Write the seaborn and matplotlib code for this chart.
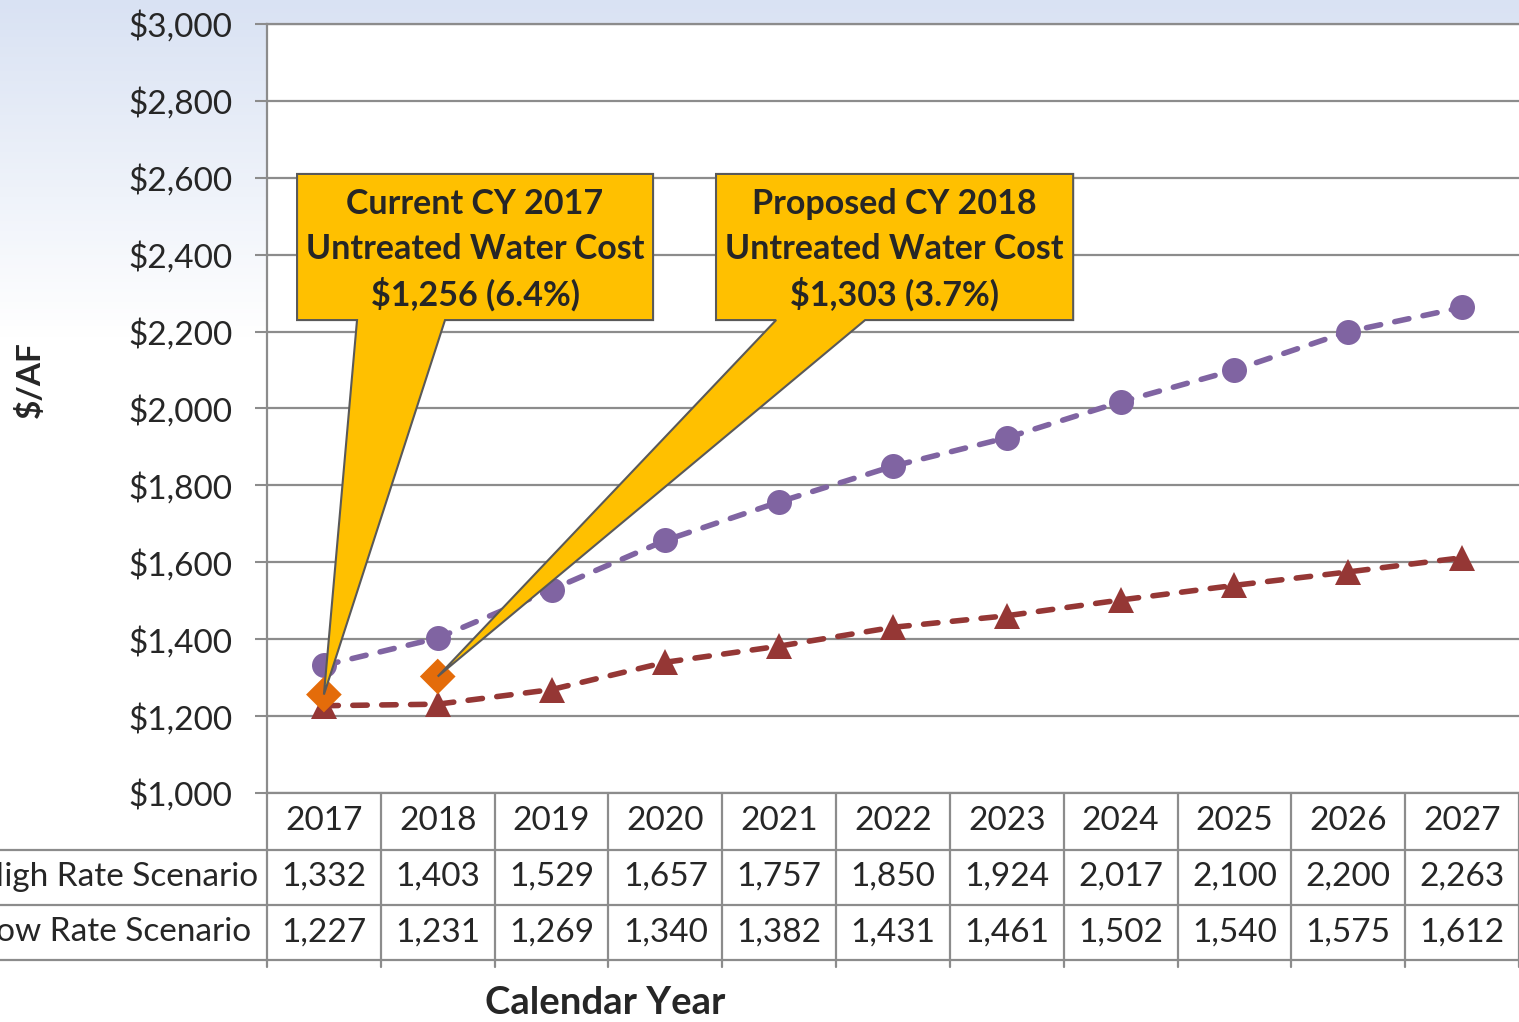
import numpy as np
import pandas as pd
import matplotlib.pyplot as plt
import seaborn as sns
from matplotlib.patches import Polygon
from matplotlib.colors import LinearSegmentedColormap

# chart data
years = ['2017', '2018', '2019', '2020', '2021', '2022', '2023', '2024', '2025', '2026', '2027']
high_rate = [1332, 1403, 1529, 1657, 1757, 1850, 1924, 2017, 2100, 2200, 2263]
low_rate = [1227, 1231, 1269, 1340, 1382, 1431, 1461, 1502, 1540, 1575, 1612]
row_names = ['High Rate Scenario', 'Low Rate Scenario']
actual_years = ['2017', '2018']
actual_cost = [1256, 1303]
callout_text = [['Current CY 2017', 'Untreated Water Cost', '$1,256 (6.4%)'],
                ['Proposed CY 2018', 'Untreated Water Cost', '$1,303 (3.7%)']]

purple = '#8064A2'
red = '#953735'
orange = '#E46C0A'
gold = '#FFC000'
gray = '#8C8C8C'
fs = 24

sns.set_style('white')
plt.rcParams['font.family'] = ['Lato', 'DejaVu Sans']

fig = plt.figure(figsize=(15.19, 10.22), dpi=100)

# background gradient
bg = fig.add_axes([0, 0, 1, 1], zorder=-10)
cmap = LinearSegmentedColormap.from_list('bg', ['#D9E2F3', '#FFFFFF'])
grad = np.clip(np.linspace(0, 1, 300) / 0.33, 0, 1)[:, None]
bg.imshow(grad, cmap=cmap, aspect='auto', extent=[0, 1, 0, 1], vmin=0, vmax=1)
bg.axis('off')

W, H = 1519, 1022
ax = fig.add_axes([267 / W, 1 - 793 / H, 1 - 267 / W, 769 / H])
ax.set_facecolor('white')

df = pd.DataFrame({'pos': np.arange(len(years)), 'year': years,
                   'high': high_rate, 'low': low_rate})
dash = (0, (2.6, 2.6))
sns.lineplot(data=df, x='pos', y='high', ax=ax, color=purple, lw=4, linestyle=dash,
             dash_capstyle='round', marker='o', markersize=18, markeredgewidth=0, zorder=3)
sns.lineplot(data=df, x='pos', y='low', ax=ax, color=red, lw=4, linestyle=dash,
             dash_capstyle='round', marker='^', markersize=19, markeredgewidth=0, zorder=3)
act_pos = [years.index(y) for y in actual_years]
sns.scatterplot(x=act_pos, y=actual_cost, ax=ax, marker='D', s=330, color=orange,
                edgecolor='none', zorder=4)

ax.set_xlim(-0.5, len(years) - 0.5)
ax.set_ylim(1000, 3000)
ax.set_yticks(range(1000, 3001, 200))
ax.set_yticklabels([f'${v:,}' for v in range(1000, 3001, 200)], fontsize=fs)
ax.set_xticks([])
ax.set_xlabel('')
ax.set_ylabel('')
ax.yaxis.grid(True, color=gray, lw=1.6)
ax.set_axisbelow(True)
ax.tick_params(axis='y', length=9, width=1.5, color=gray, pad=16, left=True)
for s in ['left', 'top', 'bottom']:
    ax.spines[s].set_color(gray)
    ax.spines[s].set_linewidth(1.6)
ax.spines['right'].set_visible(False)

# callouts
boxes = [(-0.236, 2.892, 0.291, 1.064), (3.445, 6.583, 3.973, 4.755)]
ytop, ybot = 2610, 2230
for (x0, x1, xa, xb), px, py, lines in zip(boxes, act_pos, actual_cost, callout_text):
    poly = Polygon([(x0, ytop), (x1, ytop), (x1, ybot), (xb, ybot), (px, py),
                    (xa, ybot), (x0, ybot)], closed=True, facecolor=gold,
                   edgecolor='#595959', lw=1.5, zorder=6, clip_on=False)
    ax.add_patch(poly)
    cx = (x0 + x1) / 2
    for yy, t in zip([2532, 2415, 2296], lines):
        ax.text(cx, yy, t, ha='center', va='center', fontsize=24.5, fontweight='bold',
                zorder=7)

# data table
tr = ax.get_xaxis_transform()
row_y = [-0.0364, -0.1092, -0.1808]
line_y = [-0.0741, -0.1456, -0.2172]
for i, y in enumerate(years):
    ax.text(i, row_y[0], y, transform=tr, ha='center', va='center', fontsize=fs)
    ax.text(i, row_y[1], f'{high_rate[i]:,}', transform=tr, ha='center', va='center', fontsize=fs)
    ax.text(i, row_y[2], f'{low_rate[i]:,}', transform=tr, ha='center', va='center', fontsize=fs)
for k in range(len(years) + 1):
    ax.plot([k - 0.5, k - 0.5], [0, -0.2263], transform=tr, color=gray, lw=1.6, clip_on=False)
for ly in line_y:
    ax.plot([-2.9, len(years) - 0.5], [ly, ly], transform=tr, color=gray, lw=1.6, clip_on=False)
ax.text(-0.58, row_y[1], row_names[0], transform=tr, ha='right', va='center', fontsize=fs)
ax.text(-0.64, row_y[2], row_names[1], transform=tr, ha='right', va='center', fontsize=fs)

fig.text(30 / W, 1 - 380 / H, '$/AF', rotation=90, ha='center', va='center',
         fontsize=24, fontweight='bold')
fig.text(605 / W, 1 - 1003 / H, 'Calendar Year', ha='center', va='center',
         fontsize=27.5, fontweight='bold')

fig.savefig('out.png', dpi=100)
